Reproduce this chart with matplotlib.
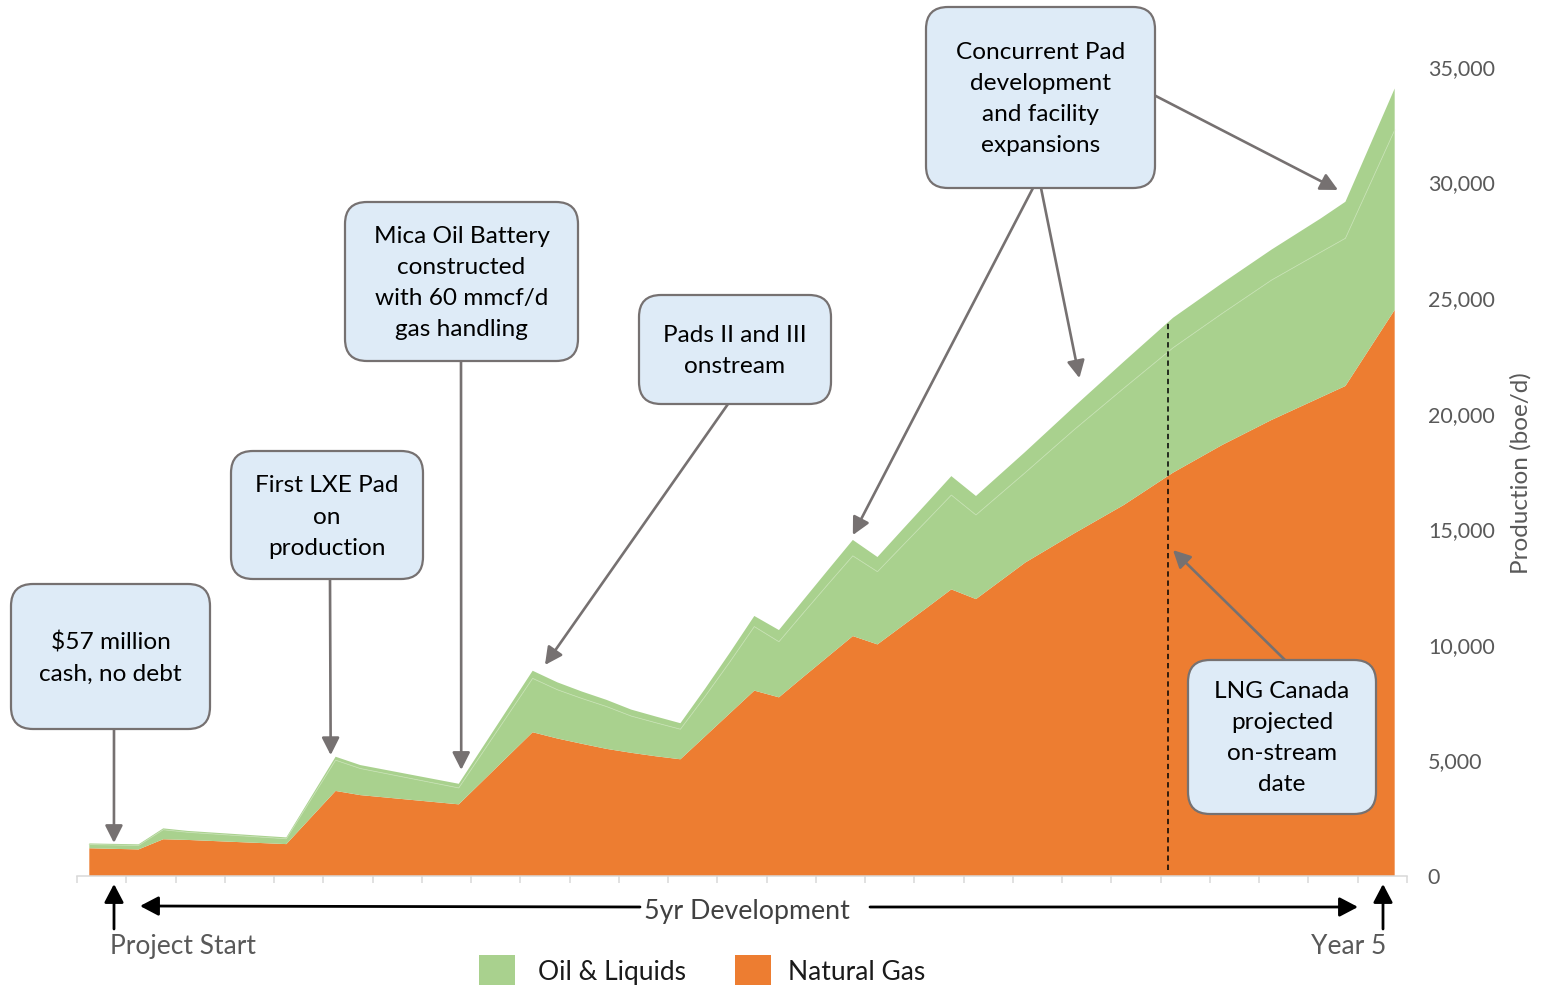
import numpy as np
import matplotlib.pyplot as plt
from matplotlib.patches import FancyBboxPatch, Rectangle
from matplotlib.transforms import IdentityTransform

plt.rcParams['font.family'] = ['Lato', 'DejaVu Sans']

# months from project start and production (boe/d) at each break point
months = [0, 2, 3, 4, 8, 10, 11, 15, 18, 19, 20, 21, 22, 23, 24, 25, 26, 27,
          28, 29, 30, 31, 32, 33, 34, 35, 36, 38, 40, 42, 44, 46, 48, 50, 51, 53]
natural_gas = [1200, 1150, 1590, 1560, 1380, 3680, 3500, 3100, 6220, 5950, 5720,
               5500, 5330, 5180, 5050, 6040, 7030, 8020, 7730, 8620, 9500, 10380,
               10020, 10810, 11600, 12400, 11980, 13560, 14830, 16050, 17450,
               18650, 19730, 20710, 21200, 24490]
oil = [160, 170, 410, 330, 230, 1330, 1150, 710, 2330, 2110, 1960, 1830, 1590,
       1450, 1300, 1730, 2220, 2770, 2405, 2770, 3130, 3470, 3145, 3460, 3770,
       4080, 3640, 3890, 4490, 5050, 5400, 5690, 6050, 6280, 6390, 7780]
liquids = [50, 50, 60, 60, 60, 150, 150, 180, 330, 320, 300, 290, 280, 270, 260,
           330, 400, 460, 505, 560, 620, 690, 635, 700, 760, 820, 820, 900, 1000,
           1150, 1300, 1310, 1320, 1460, 1580, 1800]
lng_date = 43.8
yticks = [0, 5000, 10000, 15000, 20000, 25000, 30000, 35000]

GAS = '#ED7D31'
LIQ = '#A9D18E'
GREY = '#595959'
BOX_EDGE = '#767171'
BOX_FILL = '#DEEBF7'

W, H = 1542, 988
fig = plt.figure(figsize=(W / 100, H / 100), dpi=100)
ax = fig.add_axes([77 / W, 1 - 876 / H, 1330 / W, 809 / H])

gas = np.array(natural_gas)
gas_oil = gas + np.array(oil)
total = gas_oil + np.array(liquids)

ax.stackplot(months, natural_gas, oil, liquids, colors=[GAS, LIQ, LIQ], lw=0)
ax.plot(months, gas_oil, color='#C4E0B0', lw=0.6)

# LNG Canada marker
ax.plot([lng_date, lng_date], [250, np.interp(lng_date, months, total)],
        color='black', lw=1.1, ls=(0, (3.5, 2.5)))

ax.set_xlim(-0.5, 53.5)
ax.set_ylim(0, 35000)
ax.set_xticks(np.arange(-0.5, 54, 2))
ax.tick_params(axis='x', direction='out', length=5, width=1.1, color='#D9D9D9',
               labelbottom=False)
ax.yaxis.tick_right()
ax.set_yticks(yticks)
ax.set_yticklabels([f'{v:,}' for v in yticks])
ax.tick_params(axis='y', length=0, pad=15, labelsize=15.5, labelcolor=GREY)
for s in ['top', 'left', 'right']:
    ax.spines[s].set_visible(False)
ax.spines['bottom'].set_color('#D9D9D9')
ax.spines['bottom'].set_linewidth(1.1)

fig.text(1521 / W, 1 - 473 / H, 'Production (boe/d)', rotation=90, ha='center',
         va='center', fontsize=17.5, color=GREY)


def px(x, y):
    return (x, H - y)


grey_arrow = dict(arrowstyle='-|>,head_length=0.75,head_width=0.38',
                  mutation_scale=14, color=BOX_EDGE, lw=1.9,
                  shrinkA=0, shrinkB=0)


def callout(text, box, text_y, arrows):
    x0, y0, x1, y1 = box
    for start, tip in arrows:
        ax.annotate('', xy=tip, xycoords='data', xytext=px(*start),
                    textcoords='figure pixels', arrowprops=grey_arrow,
                    annotation_clip=False)
    patch = FancyBboxPatch((x0, H - y1), x1 - x0, y1 - y0,
                           boxstyle='round,pad=0,rounding_size=22',
                           transform=IdentityTransform(), facecolor=BOX_FILL,
                           edgecolor=BOX_EDGE, lw=1.6, zorder=2)
    fig.add_artist(patch)
    fig.text((x0 + x1) / 2 / W, 1 - text_y / H, text, ha='center', va='center',
             fontsize=17.6, linespacing=1.6, color='black', zorder=3)


callout('$57 million\ncash, no debt', (11, 584, 210, 729), 658,
        [((114, 729), (1.0, 1430))])
callout('First LXE Pad\non\nproduction', (231, 451, 423, 579), 517,
        [((330, 579), (9.8, 5230))])
callout('Mica Oil Battery\nconstructed\nwith 60 mmcf/d\ngas handling',
        (345, 202, 578, 361), 283, [((461, 361), (15.1, 4590))])
callout('Pads II and III\nonstream', (639, 295, 831, 404), 351,
        [((728, 404), (18.5, 9130))])
callout('Concurrent Pad\ndevelopment\nand facility\nexpansions',
        (926, 7, 1155, 188), 99,
        [((1033, 188), (31.0, 14750)), ((1041, 188), (40.2, 21540)),
         ((1150, 93), (50.7, 29680))])
callout('LNG Canada\nprojected\non-stream\ndate', (1188, 660, 1376, 814), 738,
        [((1285, 660), (44.0, 14100))])

# timeline under the axis
black_arrow = dict(arrowstyle='-|>,head_length=0.8,head_width=0.42',
                   mutation_scale=14, color='black', lw=2, shrinkA=0, shrinkB=0)
for start, end in [((114, 929), (114, 884)), ((1383, 929), (1383, 884)),
                   ((640, 907), (140, 906)), ((870, 907), (1358, 907))]:
    ax.annotate('', xy=px(*end), xycoords='figure pixels', xytext=px(*start),
                textcoords='figure pixels', arrowprops=black_arrow,
                annotation_clip=False)

fig.text(747 / W, 1 - 911 / H, '5yr Development', ha='center', va='center',
         fontsize=19.3, color='#404040')
fig.text(110 / W, 1 - 946 / H, 'Project Start', ha='left', va='center',
         fontsize=19, color=GREY)
fig.text(1386 / W, 1 - 946 / H, 'Year 5', ha='right', va='center',
         fontsize=19, color=GREY)

# legend
for x0, tx, color, label in [(479, 538, LIQ, 'Oil & Liquids'),
                             (735, 788, GAS, 'Natural Gas')]:
    fig.add_artist(Rectangle((x0, H - 985), 36, 30, facecolor=color, lw=0,
                             transform=IdentityTransform()))
    fig.text(tx / W, 1 - 972 / H, label, ha='left', va='center',
             fontsize=19, color='#1A1A1A')

fig.savefig('out.png', dpi=100)
